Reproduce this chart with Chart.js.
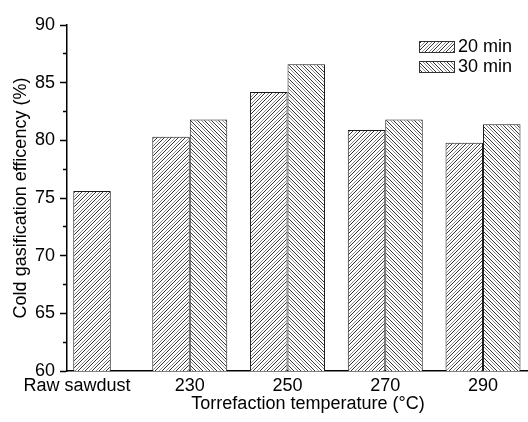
<!DOCTYPE html>
<html>
<head>
<meta charset="utf-8">
<script src="https://cdn.jsdelivr.net/npm/chart.js@4/dist/chart.umd.min.js"></script>
<style>
  html, body { margin: 0; padding: 0; background: #fff; overflow: hidden; }
</style>
</head>
<body>
<canvas id="cge" width="549" height="422"></canvas>
<script>
// ── Data ──────────────────────────────────────────────────────────────────────
const categories = ['Raw sawdust', '230', '250', '270', '290'];
const seriesLabels = ['20 min', '30 min'];
const eff20 = [75.6, 80.3, 84.2, 80.9, 79.8];
const eff30 = [null, 81.8, 86.6, 81.8, 81.4];

const FONT = '"Liberation Sans", Arial, sans-serif';
Chart.defaults.font.family = FONT;
Chart.defaults.font.size = 18;
Chart.defaults.color = '#000';

// ── Hatch fills ───────────────────────────────────────────────────────────────
// dir > 0 draws "/" lines, dir < 0 draws "\" lines; one dark and one grey line per 7px
function hatch(dir) {
    const n = 7;
    const c = document.createElement('canvas');
    c.width = n;
    c.height = n;
    const g = c.getContext('2d');
    g.fillStyle = '#fff';
    g.fillRect(0, 0, n, n);
    for (let x = 0; x < n; x++) {
        for (let y = 0; y < n; y++) {
            const k = dir > 0 ? (x + y) % n : (x - y + n) % n;
            if (k === 0) { g.fillStyle = '#303030'; g.fillRect(x, y, 1, 1); }
            else if (k === 4) { g.fillStyle = '#8c8c8c'; g.fillRect(x, y, 1, 1); }
        }
    }
    return g.createPattern(c, 'repeat');
}

const toPoints = values => categories.map((c, i) => ({ x: i + 1, y: values[i] }));

// ── Legend drawn inside the plot, top right ───────────────────────────────────
const hatchLegend = {
    id: 'hatchLegend',
    afterDraw(chart) {
        const { ctx, chartArea } = chart;
        ctx.save();
        chart.data.datasets.forEach((ds, i) => {
            const x = chartArea.right - 130;
            const y = chartArea.top + 16 + i * 20;
            ctx.fillStyle = ds.backgroundColor;
            ctx.fillRect(x, y, 35, 11);
            ctx.strokeStyle = '#333';
            ctx.lineWidth = 1;
            ctx.strokeRect(x + 0.5, y + 0.5, 35, 11);
            ctx.fillStyle = '#000';
            ctx.font = '18px ' + FONT;
            ctx.textBaseline = 'middle';
            ctx.fillText(ds.label, x + 39, y + 6);
        });
        ctx.restore();
    }
};

// ── Chart ─────────────────────────────────────────────────────────────────────
new Chart(document.getElementById('cge'), {
    type: 'bar',
    data: {
        datasets: [
            { label: seriesLabels[0], data: toPoints(eff20), backgroundColor: hatch(1),  borderColor: '#1a1a1a', borderWidth: 1 },
            { label: seriesLabels[1], data: toPoints(eff30), backgroundColor: hatch(-1), borderColor: '#1a1a1a', borderWidth: 1 }
        ]
    },
    options: {
        responsive: false,
        animation: false,
        layout: { padding: { top: 25, right: 0, bottom: 0, left: 0 } },
        datasets: {
            bar: { skipNull: true, categoryPercentage: 0.767, barPercentage: 1, maxBarThickness: 37.5 }
        },
        plugins: {
            legend: { display: false },
            tooltip: { enabled: false }
        },
        scales: {
            x: {
                type: 'linear',
                offset: false,
                min: 0.744,
                max: 5.675,
                afterBuildTicks: s => { s.ticks = categories.map((c, i) => ({ value: i + 1 })); },
                afterFit: s => { s.height = 51; },
                ticks: {
                    autoSkip: false,
                    maxRotation: 0,
                    padding: 4,
                    // the first label sits a little left of its bar
                    callback: (v, i) => categories[i] + (i === 0 ? '      ' : '')
                },
                grid: { drawOnChartArea: false, drawTicks: false },
                border: { color: '#000', width: 1.5 },
                title: {
                    display: true,
                    text: 'Torrefaction temperature (°C)',
                    padding: { top: 0, bottom: 7 }
                }
            },
            y: {
                min: 60,
                max: 90,
                afterFit: s => { s.width = 67; },
                ticks: {
                    stepSize: 2.5,
                    autoSkip: false,
                    padding: 5,
                    callback: v => (v % 5 === 0 ? v : '')
                },
                grid: {
                    drawOnChartArea: false,
                    tickLength: 7,
                    tickColor: '#000',
                    tickWidth: 1.5,
                    // minor ticks are shorter
                    tickBorderDash: ctx => (ctx.tick && ctx.tick.value % 5 !== 0 ? [0, 3, 20] : [])
                },
                border: { color: '#000', width: 1.5 },
                title: {
                    display: true,
                    text: 'Cold gasification efficency (%)',
                    padding: { top: 10, bottom: 0 }
                }
            }
        }
    },
    plugins: [hatchLegend]
});
</script>
</body>
</html>
